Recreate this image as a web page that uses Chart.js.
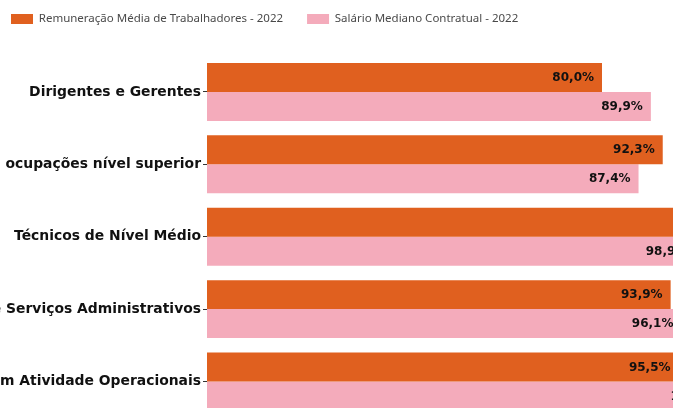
<!DOCTYPE html>
<html>
<head>
<meta charset="utf-8">
<script src="https://cdn.jsdelivr.net/npm/chart.js@4"></script>
<style>
  html, body { margin: 0; padding: 0; background: #fff; overflow: hidden; }
  canvas { display: block; }
</style>
</head>
<body>
<canvas id="chart" width="673" height="428"></canvas>
<script>
// Data
const categories = [
  "Dirigentes e Gerentes",
  "Demais ocupações nível superior",
  "Técnicos de Nível Médio",
  "Trabalhadores de Serviços Administrativos",
  "Trabalhadores em Atividade Operacionais",
];
const remuneracao = [80.0, 92.3, 107.0, 93.9, 95.5];
const salario = [89.9, 87.4, 98.9, 96.1, 105.6];
const seriesNames = [
  "Remuneração Média de Trabalhadores - 2022",
  "Salário Mediano Contratual - 2022",
];

const colors = {
  orange: "#e0601f",
  pink: "#f4abbb",
  text: "#111",
  legend: "#4a4a4a",
};
const font = "'DejaVu Sans', sans-serif";

// extra room under the legend so the plot area starts where the reference does
const legendSpacer = {
  id: "legendSpacer",
  beforeInit(chart) {
    const fit = chart.legend.fit;
    chart.legend.fit = function () {
      fit.bind(chart.legend)();
      this.height += 21;
    };
  },
};

// value labels at the end of each bar
const barLabels = {
  id: "barLabels",
  afterDatasetsDraw(chart) {
    const ctx = chart.ctx;
    ctx.save();
    ctx.font = "bold 12px " + font;
    ctx.fillStyle = colors.text;
    ctx.textAlign = "right";
    ctx.textBaseline = "middle";
    chart.data.datasets.forEach((ds, i) => {
      chart.getDatasetMeta(i).data.forEach((bar, j) => {
        const txt = ds.data[j].toFixed(1).replace(".", ",") + "%";
        ctx.fillText(txt, bar.x - 8, bar.y + 0.5);
      });
    });
    ctx.restore();
  },
};

const ctx = document.getElementById("chart").getContext("2d");
new Chart(ctx, {
  type: "bar",
  data: {
    labels: categories,
    datasets: [
      {
        label: seriesNames[0],
        data: remuneracao,
        backgroundColor: colors.orange,
        categoryPercentage: 0.8,
        barPercentage: 1.0,
      },
      {
        label: seriesNames[1],
        data: salario,
        backgroundColor: colors.pink,
        categoryPercentage: 0.8,
        barPercentage: 1.0,
      },
    ],
  },
  options: {
    indexAxis: "y",
    responsive: false,
    animation: false,
    devicePixelRatio: 1,
    layout: { padding: { top: -10.75, left: -13, right: 0, bottom: 0 } },
    plugins: {
      legend: {
        position: "top",
        align: "start",
        labels: {
          boxWidth: 22,
          boxHeight: 10,
          padding: 24,
          color: colors.legend,
          font: { family: "'Noto Sans', sans-serif", size: 11.5 },
        },
      },
      tooltip: { enabled: false },
    },
    scales: {
      x: {
        display: false,
        min: 0,
        max: 94.38,
      },
      y: {
        afterFit: (scale) => {
          scale.width = 220;
        },
        border: { display: false },
        grid: {
          drawOnChartArea: false,
          offset: false,
          tickLength: 4,
          color: "#333",
        },
        ticks: {
          padding: 2,
          color: colors.text,
          font: { family: font, size: 13.9, weight: "bold" },
        },
      },
    },
  },
  plugins: [legendSpacer, barLabels],
});
</script>
</body>
</html>
